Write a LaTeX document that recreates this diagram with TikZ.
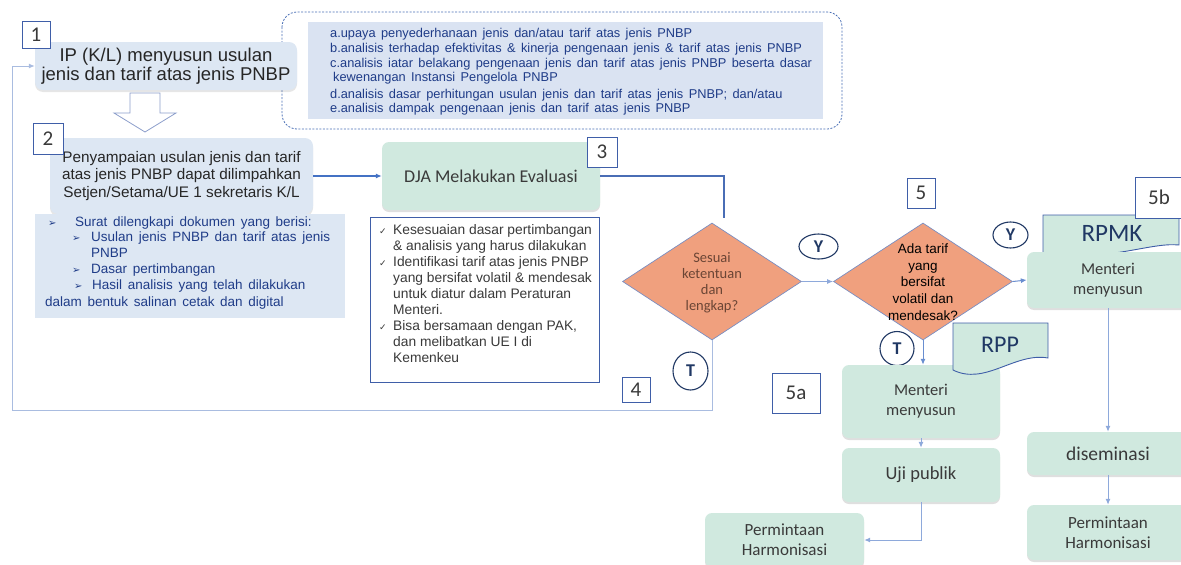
\documentclass[tikz,border=0pt]{standalone}
\usepackage{fontspec}
\setmainfont{Liberation Sans}
\newfontfamily\calib{Carlito}
\newfontfamily\dejavu{DejaVu Sans}
\usetikzlibrary{shapes.geometric,arrows.meta,shadows,calc}
\definecolor{lblue}{HTML}{DDE7F3}
\definecolor{dfill}{HTML}{DAE3F2}
\definecolor{mint}{HTML}{D0E9DF}
\definecolor{boxblue}{HTML}{3F5EA8}
\definecolor{navy}{HTML}{203864}
\definecolor{dtext}{HTML}{1F3C88}
\definecolor{salmon}{HTML}{F0A07E}
\definecolor{conn}{HTML}{4472C4}
\definecolor{darkconn}{HTML}{4A6DB5}
\definecolor{pale}{HTML}{8EA9DB}
\definecolor{loopc}{HTML}{A9BCE0}
\definecolor{brownt}{HTML}{6B4535}
\definecolor{gtext}{HTML}{3A3A3A}
\definecolor{dashc}{HTML}{4A6FB5}
\newcommand{\widesp}{\spaceskip=.42em\relax}
\newcommand{\txtline}[4]{\node[anchor=base west, inner sep=0pt, #1] (#2) at #3 {#4};}
\begin{document}
\begin{tikzpicture}[x=1pt,y=-1pt,
 numbox/.style={draw=boxblue, line width=0.9pt, fill=white, inner sep=0pt, text=gtext, font=\calib\fontsize{21}{22}\selectfont},
 bluebox/.style={fill=lblue, rounded corners=8pt, inner sep=0pt, align=center, drop shadow={shadow xshift=0pt, shadow yshift=-2pt, opacity=.2}},
 greenbox/.style={fill=mint, rounded corners=7pt, inner sep=0pt, align=center, text=gtext, drop shadow={shadow xshift=0pt, shadow yshift=-2pt, opacity=.25}},
 yt/.style={ellipse, draw=navy, line width=1.1pt, fill=white, inner sep=0pt, text=navy, font=\calib\bfseries\fontsize{18}{18}\selectfont},
 tip/.style={-{Latex[length=6pt,width=5pt]}},
 dtxt/.style={text=dtext, font=\fontsize{12.8}{15}\selectfont\widesp},
 btxt/.style={text=dtext, font=\fontsize{13.5}{16}\selectfont\widesp},
 ctxt/.style={text=gtext, font=\fontsize{13.8}{16}\selectfont},
 dia/.style={diamond, aspect=1.54, fill=salmon, draw=boxblue!70, line width=0.7pt, inner sep=0pt, minimum width=179pt, minimum height=117pt},
]
\useasboundingbox (0,0) rectangle (1181,565);

% dashed info box
\draw[dashc, dash pattern=on 2pt off 1.5pt, line width=0.8pt, rounded corners=15pt] (282,12) rectangle (842,129);
\fill[dfill] (308,22) rectangle (823,119);
\txtline{dtxt}{da}{(330,37)}{a.upaya penyederhanaan jenis dan/atau tarif atas jenis PNBP}
\txtline{dtxt}{db}{(330,52)}{b.analisis terhadap efektivitas \& kinerja pengenaan jenis \& tarif atas jenis PNBP}
\txtline{dtxt}{dc}{(330,67)}{c.analisis iatar belakang pengenaan jenis dan tarif atas jenis PNBP beserta dasar}
\txtline{dtxt}{dc2}{(333,81)}{kewenangan Instansi Pengelola PNBP}
\txtline{dtxt}{dd}{(330,98)}{d.analisis dasar perhitungan usulan jenis dan tarif atas jenis PNBP; dan/atau}
\txtline{dtxt}{de}{(330,112)}{e.analisis dampak pengenaan jenis dan tarif atas jenis PNBP}

% step 1
\node[bluebox, minimum width=262pt, minimum height=48pt, font=\fontsize{18.5}{19.5}\selectfont, text=black!85] (n1) at (166,66) {IP (K/L) menyusun usulan\\jenis dan tarif atas jenis PNBP};
\node[numbox, minimum width=28pt, minimum height=27pt] (b1) at (36,34.5) {1};

% hollow arrow
\draw[draw=boxblue!60, fill=white, line width=0.8pt] (130,93) -- (160,93) -- (160,113) -- (176,113) -- (145,132) -- (114,113) -- (130,113) -- cycle;

% step 2
\node[bluebox, minimum width=263pt, minimum height=76pt, font=\fontsize{15.3}{17.5}\selectfont, text=black!85] (n2) at (181.5,176) {Penyampaian usulan jenis dan tarif\\atas jenis PNBP dapat dilimpahkan\\Setjen/Setama/UE 1 sekretaris K/L};
\node[numbox, minimum width=30pt, minimum height=31pt] (b2) at (48,138.5) {2};

% bullet area
\fill[lblue] (35,214) rectangle (345,318);
\txtline{btxt}{s1}{(45,226)}{\hspace*{3pt}\makebox[27pt][l]{\dejavu\fontsize{10}{10}\selectfont ➢}Surat dilengkapi dokumen yang berisi:}
\txtline{btxt}{s2}{(45,241)}{\hspace*{27pt}\makebox[19pt][l]{\dejavu\fontsize{10}{10}\selectfont ➢}Usulan jenis PNBP dan tarif atas jenis}
\txtline{btxt}{s3}{(45,257)}{\hspace*{46pt}PNBP}
\txtline{btxt}{s4}{(45,273)}{\hspace*{27pt}\makebox[19pt][l]{\dejavu\fontsize{10}{10}\selectfont ➢}Dasar pertimbangan}
\txtline{btxt}{s5}{(45,289)}{\hspace*{29pt}\makebox[18pt][l]{\dejavu\fontsize{10}{10}\selectfont ➢}Hasil analisis yang telah dilakukan}
\txtline{btxt}{s6}{(45,306)}{dalam bentuk salinan cetak dan digital}

% step 3
\node[greenbox, minimum width=218pt, minimum height=68pt, font=\calib\fontsize{18}{19}\selectfont] (dja) at (491,176) {DJA Melakukan Evaluasi};
\node[numbox, minimum width=30pt, minimum height=30pt] (b3) at (602,152) {3};
\draw[conn, line width=1.5pt, tip] (n2.east) -- (dja.west);

% checklist box
\node[draw=boxblue, line width=0.9pt, fill=white, minimum width=229pt, minimum height=165pt, inner sep=0pt] (chk) at (484.5,299.5) {};
\txtline{ctxt}{c1}{(379,234)}{\makebox[14pt][l]{\dejavu\fontsize{9}{9}\selectfont ✓}Kesesuaian dasar pertimbangan}
\txtline{ctxt}{c2}{(379,250)}{\hspace*{14pt}\& analisis yang harus dilakukan}
\txtline{ctxt}{c3}{(379,266)}{\makebox[14pt][l]{\dejavu\fontsize{9}{9}\selectfont ✓}Identifikasi tarif atas jenis PNBP}
\txtline{ctxt}{c4}{(379,282)}{\hspace*{14pt}yang bersifat volatil \& mendesak}
\txtline{ctxt}{c5}{(379,298.5)}{\hspace*{14pt}untuk diatur dalam Peraturan}
\txtline{ctxt}{c6}{(379,314.5)}{\hspace*{14pt}Menteri.}
\txtline{ctxt}{c7}{(379,330.5)}{\makebox[14pt][l]{\dejavu\fontsize{9}{9}\selectfont ✓}Bisa bersamaan dengan PAK,}
\txtline{ctxt}{c8}{(379,346.5)}{\hspace*{14pt}dan melibatkan UE I di}
\txtline{ctxt}{c9}{(379,362.5)}{\hspace*{14pt}Kemenkeu}

% diamonds
\node[dia] (d1) at (712,281.5) {};
\node[align=center, inner sep=0pt, text=brownt, font=\calib\fontsize{14.5}{16}\selectfont] (d1t) at (712,283) {Sesuai\\ketentuan\\dan\\lengkap?};
\node[dia] (d2) at (923,281.5) {};
\node[align=center, inner sep=0pt, text=black, font=\fontsize{13.5}{16.6}\selectfont] (d2t) at (923,282) {Ada tarif\\yang\\bersifat\\volatil dan\\mendesak?};

\coordinate (d1in) at (724,218);
\draw[darkconn, line width=1.8pt] (dja.east) -| (d1in);
\draw[pale, line width=1pt, tip] (d1.east) -- (d2.west);

% loop back
\coordinate (lc) at (12,410);
\draw[loopc, line width=1pt, tip] (d1.south) |- (lc) |- (n1.west);
\node[numbox, minimum width=28pt, minimum height=25pt] (b4) at (636,389.5) {4};

% labels
\node[yt, minimum width=39pt, minimum height=25pt] (y1) at (818.5,246.5) {Y};
\node[yt, minimum width=35pt, minimum height=38pt] (t1) at (690.5,371) {T};
\node[yt, minimum width=35pt, minimum height=26pt] (y2) at (1010.5,235) {Y};
\node[numbox, minimum width=28pt, minimum height=30pt] (b5) at (921,193) {5};
\node[yt, minimum width=34pt, minimum height=34pt] (t2) at (897,348.5) {T};

% branch 5b
\draw[draw=boxblue, fill=mint, line width=0.9pt] (1043,215) -- (1179,215) -- (1179,245) .. controls (1150,242) and (1110,262) .. (1043,254) -- cycle;
\node[inner sep=0pt, text=navy, font=\calib\fontsize{25}{25}\selectfont] (rpmk) at (1112,233) {RPMK};
\node[numbox, minimum width=50pt, minimum height=41pt] (b5b) at (1160,197.5) {\hspace*{-1pt}5b\hspace*{1pt}};
\node[greenbox, minimum width=162pt, minimum height=56pt, font=\calib\fontsize{16.5}{19.5}\selectfont] (m5b) at (1108,280) {Menteri\\menyusun};
\node[greenbox, minimum width=162pt, minimum height=43pt, font=\calib\fontsize{19.5}{20}\selectfont] (dis) at (1108,453.5) {diseminasi};
\node[greenbox, minimum width=162pt, minimum height=55pt, font=\calib\fontsize{17}{20}\selectfont] (perR) at (1108,532.5) {Permintaan\\Harmonisasi};
\draw[conn!80, line width=1pt, tip] (d2.east) -- (m5b.west);
\draw[pale, line width=1pt, tip] (m5b.south) -- (dis.north);
\draw[pale, line width=1pt, tip] (dis.south) -- (perR.north);

% branch 5a
\node[greenbox, minimum width=158pt, minimum height=73pt, font=\calib\fontsize{16.5}{20}\selectfont] (m5a) at (921,401.5) {Menteri\\menyusun};
\draw[draw=boxblue, fill=mint, line width=0.9pt] (953,323) -- (1048,323) -- (1048,358) .. controls (1015,352) and (985,386) .. (953,370) -- cycle;
\node[inner sep=0pt, text=navy, font=\calib\fontsize{24}{24}\selectfont] (rpp) at (1000,345) {RPP};
\node[numbox, minimum width=48pt, minimum height=40pt] (b5a) at (796,393) {5a};
\node[greenbox, minimum width=158pt, minimum height=54pt, font=\calib\fontsize{18.5}{19}\selectfont] (uji) at (921,475) {Uji publik};
\node[greenbox, minimum width=159pt, minimum height=54pt, font=\calib\fontsize{17}{20}\selectfont] (perL) at (784.5,540) {Permintaan\\Harmonisasi};
\draw[conn!80, line width=1pt, tip] (d2.south) -- (d2.south |- m5a.north);
\draw[pale, line width=1pt, tip] (m5a.south) -- (uji.north);
\draw[pale, line width=1pt, tip] (uji.south) |- (perL.east);
\end{tikzpicture}
\end{document}
